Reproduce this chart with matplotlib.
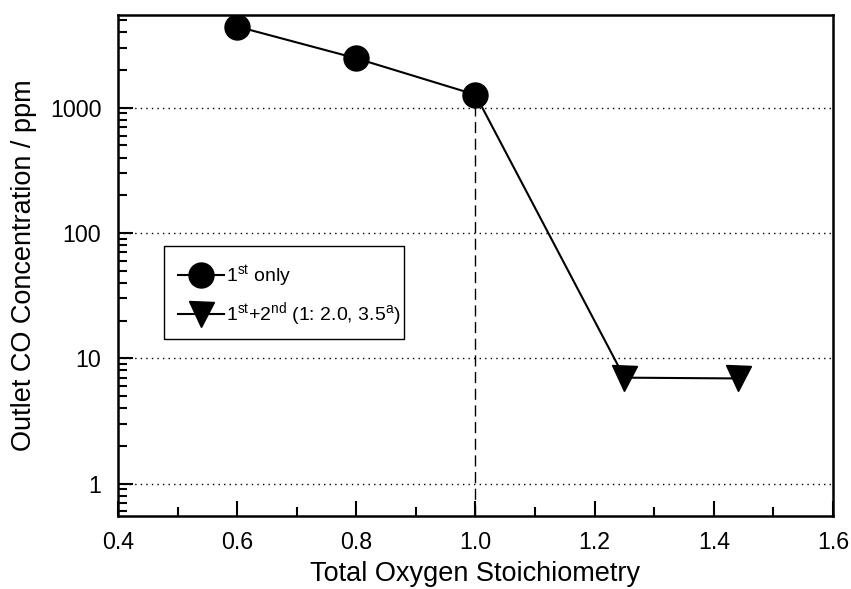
import matplotlib
matplotlib.use("Agg")
import matplotlib.pyplot as plt
from matplotlib.patches import Rectangle
from matplotlib.ticker import LogLocator, FixedLocator, NullFormatter, MultipleLocator

plt.rcParams['font.family'] = ['Liberation Sans', 'DejaVu Sans']
plt.rcParams['mathtext.default'] = 'regular'

# Data
x_first = [0.6, 0.8, 1.0]
co_first = [4450, 2480, 1270]
x_second = [1.0, 1.25, 1.44]
co_second = [1270, 7.0, 6.9]
label_first = r'$1^{st}$ only'
label_second = r'$1^{st}$+$2^{nd}$ (1: 2.0, 3.5$^{a}$)'
x_ticks = [0.4, 0.6, 0.8, 1.0, 1.2, 1.4, 1.6]
x_tick_labels = ['0.4', '0.6', '0.8', '1.0', '1.2', '1.4', '1.6']
y_ticks = [1, 10, 100, 1000]
y_tick_labels = ['1', '10', '100', '1000']
stoich_line_x = 1.0

fig = plt.figure(figsize=(8.51, 5.89), dpi=100)
ax = fig.add_axes([0.1387, 0.1239, 0.8401, 0.8506])

ax.set_xscale('linear')
ax.set_yscale('log')
ax.set_xlim(0.4, 1.6)
ax.set_ylim(0.55, 5500)

# gridlines at major y ticks
for yv in y_ticks:
    ax.axhline(yv, color='black', linestyle=(0, (1, 3)), linewidth=1.0, zorder=1)

# vertical dashed line
ax.plot([stoich_line_x, stoich_line_x], [0.55, co_first[-1]], color='black',
        linestyle=(0, (8, 4)), linewidth=1.0, zorder=2)

ax.plot(x_first, co_first, color='black', linewidth=1.5, marker='o',
        markersize=18, label=label_first, zorder=3)
ax.plot(x_second, co_second, color='black', linewidth=1.5, marker='v',
        markersize=18, markevery=[1, 2], label=label_second, zorder=3)

ax.xaxis.set_major_locator(FixedLocator(x_ticks))
ax.set_xticklabels(x_tick_labels)
ax.xaxis.set_minor_locator(MultipleLocator(0.1))
ax.yaxis.set_major_locator(FixedLocator(y_ticks))
ax.set_yticklabels(y_tick_labels)
ax.yaxis.set_minor_locator(LogLocator(base=10, subs=[2, 3, 4, 5, 6, 7, 8, 9], numticks=20))
ax.yaxis.set_minor_formatter(NullFormatter())

ax.tick_params(which='both', direction='in', top=False, right=False, width=1.5, labelsize=16.7)
ax.tick_params(axis='x', which='major', length=11, pad=10.5)
ax.tick_params(axis='y', which='major', length=11, pad=12)
ax.tick_params(which='minor', length=6.5)

for sp in ax.spines.values():
    sp.set_linewidth(1.8)

ax.set_xlabel('Total Oxygen Stoichiometry', fontsize=19.5, labelpad=5)
ax.set_ylabel('Outlet CO Concentration / ppm', fontsize=19.5, labelpad=9)

# legend box (drawn separately to get the tight right padding of the original)
ax.add_patch(Rectangle((0.0643, 0.3533), 0.3357, 0.1862, transform=ax.transAxes,
                       facecolor='white', edgecolor='black', linewidth=1.0, zorder=4))
leg = ax.legend(loc='upper left', bbox_to_anchor=(0.0839, 0.504), fontsize=14.0,
                frameon=False, handlelength=2.35, borderpad=0.0, borderaxespad=0.0,
                labelspacing=0.58, handletextpad=0.12, markerscale=1.0)
leg.set_zorder(5)

fig.savefig('out.png', dpi=100)
